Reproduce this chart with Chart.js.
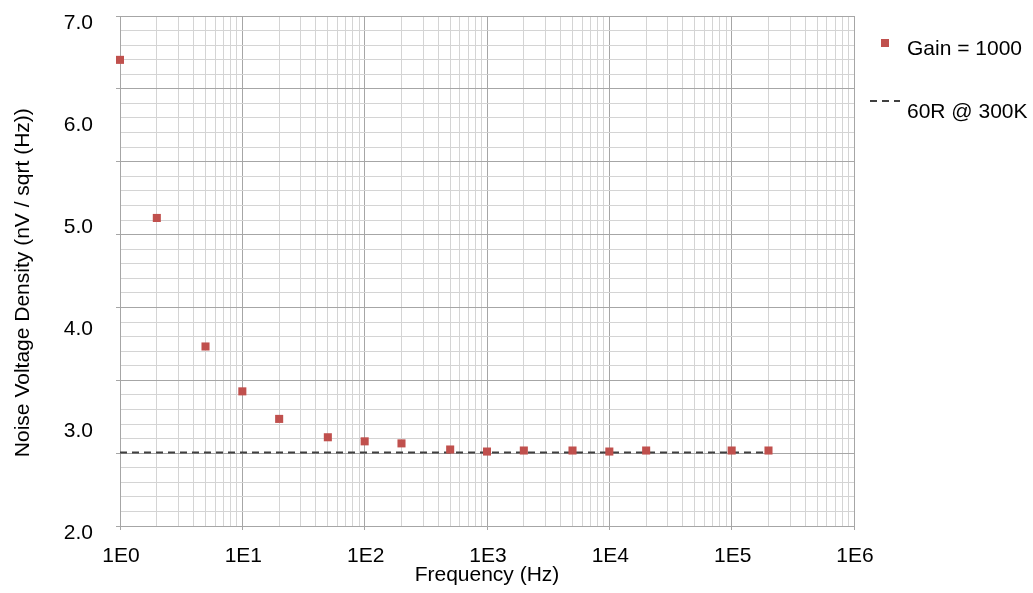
<!DOCTYPE html>
<html>
<head>
<meta charset="utf-8">
<script src="https://cdn.jsdelivr.net/npm/chart.js@4.4.1/dist/chart.umd.min.js"></script>
<style>
  html, body { margin: 0; padding: 0; background: #ffffff; }
  #wrap { width: 1033px; height: 593px; }
</style>
</head>
<body>
<div id="wrap"><canvas id="c" width="1033" height="593"></canvas></div>
<script>
// ---- data ----
const frequencies = [1, 2, 5, 10, 20, 50, 100, 200, 500, 1000, 2000, 5000, 10000, 20000, 100000, 200000];
const noiseGain1000 = [6.57, 5.02, 3.76, 3.32, 3.05, 2.87, 2.83, 2.81, 2.75, 2.73, 2.74, 2.74, 2.73, 2.74, 2.74, 2.74];
const refFrequencies = [1, 200000];
const refNoise60R = [2.72, 2.72];
const seriesNames = ['Gain = 1000', '60R @ 300K'];
const xTickLabels = ['1E0', '1E1', '1E2', '1E3', '1E4', '1E5', '1E6'];
const yTickValues = [2, 3, 4, 5, 6, 7];
const xTitle = 'Frequency (Hz)';
const yTitle = 'Noise Voltage Density (nV / sqrt (Hz))';

// ---- style ----
const FONT = 'Liberation Sans, Arial, Helvetica, sans-serif';
const MAJOR = '#a6a6a6';
const MINOR = '#d4d4d4';
const RED = '#c0504d';
const DASH = '#404040';
const GRID_ROWS = 35;   // horizontal grid divisions (7 major x 5 minor)

function isDecade(v) {
  const e = Math.round(Math.log10(v));
  return Math.abs(v - Math.pow(10, e)) < 1e-6 * Math.pow(10, e);
}

const legendPlugin = {
  id: 'sideLegend',
  afterDraw(chart) {
    const ctx = chart.ctx;
    const ds = chart.data.datasets;
    ctx.save();
    ctx.fillStyle = ds[0].pointBackgroundColor;
    ctx.fillRect(881, 39, 8, 8);
    ctx.fillStyle = '#000';
    ctx.font = '21px ' + FONT;
    ctx.textBaseline = 'middle';
    ctx.textAlign = 'left';
    ctx.fillText(ds[0].label, 907, 49);
    ctx.strokeStyle = ds[1].borderColor;
    ctx.lineWidth = ds[1].borderWidth;
    ctx.setLineDash(ds[1].borderDash);
    ctx.beginPath();
    ctx.moveTo(870, 101);
    ctx.lineTo(900, 101);
    ctx.stroke();
    ctx.setLineDash([]);
    ctx.fillText(ds[1].label, 907, 112);
    ctx.restore();
  }
};

const chart = new Chart(document.getElementById('c'), {
  type: 'scatter',
  data: {
    datasets: [
      {
        label: seriesNames[0],
        data: frequencies.map((f, i) => ({ x: f, y: noiseGain1000[i] })),
        showLine: false,
        pointStyle: 'rect',
        pointRadius: 5.7,
        pointBorderWidth: 0,
        pointBackgroundColor: RED,
        pointBorderColor: RED,
        yAxisID: 'y',
        xAxisID: 'x',
        clip: false
      },
      {
        label: seriesNames[1],
        data: refFrequencies.map((f, i) => ({ x: f, y: refNoise60R[i] })),
        showLine: true,
        borderColor: DASH,
        borderWidth: 2,
        borderDash: [7, 5],
        pointRadius: 0,
        fill: false,
        yAxisID: 'y',
        xAxisID: 'x'
      }
    ]
  },
  options: {
    responsive: false,
    animation: false,
    devicePixelRatio: 1,
    layout: { padding: { top: 16, right: 179, bottom: 0, left: 0 } },
    plugins: {
      legend: { display: false },
      tooltip: { enabled: false }
    },
    scales: {
      x: {
        type: 'logarithmic',
        position: 'bottom',
        min: 1,
        max: 1000000,
        afterBuildTicks(scale) {
          const t = [];
          for (let e = 0; e < 6; e++) {
            for (let m = 1; m <= 9; m++) t.push({ value: m * Math.pow(10, e) });
          }
          t.push({ value: 1000000 });
          scale.ticks = t;
        },
        afterFit(scale) { scale.height = 67; scale.paddingLeft = 0; scale.paddingRight = 0; },
        ticks: {
          autoSkip: false,
          maxRotation: 0,
          minRotation: 0,
          padding: 17,
          labelOffset: 1,
          color: '#000',
          font: { family: FONT, size: 21, lineHeight: '18px' },
          callback(value) {
            if (!isDecade(value)) return '';
            return xTickLabels[Math.round(Math.log10(value))];
          }
        },
        grid: {
          color: (c) => (c.tick && isDecade(c.tick.value)) ? MAJOR : MINOR,
          tickColor: (c) => (c.tick && isDecade(c.tick.value)) ? MAJOR : 'rgba(0,0,0,0)',
          tickLength: 4,
          lineWidth: 1
        },
        border: { display: true, color: MAJOR, width: 1 },
        title: {
          display: true,
          text: xTitle,
          color: '#000',
          font: { family: FONT, size: 21, lineHeight: 1 },
          padding: { top: 0, bottom: 7 }
        }
      },
      y2: {
        type: 'linear',
        axis: 'y',
        position: 'left',
        weight: 0,
        min: 0,
        max: GRID_ROWS,
        afterBuildTicks(scale) {
          const t = [];
          for (let i = 0; i <= GRID_ROWS; i++) t.push({ value: i });
          scale.ticks = t;
        },
        afterFit(scale) { scale.width = 5; scale.paddingTop = 0; scale.paddingBottom = 0; },
        ticks: { display: false },
        grid: {
          color: (c) => (c.tick && Math.round(c.tick.value) % 5 === 0) ? MAJOR : MINOR,
          tickColor: (c) => (c.tick && Math.round(c.tick.value) % 5 === 0) ? MAJOR : 'rgba(0,0,0,0)',
          tickLength: 4,
          lineWidth: 1
        },
        border: { display: true, color: MAJOR, width: 1 }
      },
      y: {
        type: 'linear',
        axis: 'y',
        position: 'left',
        weight: 1,
        min: 2,
        max: 7,
        afterFit(scale) { scale.width = 115; scale.paddingTop = 0; scale.paddingBottom = 0; },
        afterBuildTicks(scale) {
          scale.ticks = yTickValues.map(v => ({ value: v }));
        },
        ticks: {
          padding: 22,
          labelOffset: 7,
          color: '#000',
          font: { family: FONT, size: 21 },
          callback(value) { return Number(value).toFixed(1); }
        },
        grid: { display: false, drawTicks: false },
        border: { display: false },
        title: {
          display: true,
          text: yTitle + '    ',
          color: '#000',
          font: { family: FONT, size: 21, lineHeight: 1 },
          padding: { top: 12.5, bottom: 0 }
        }
      }
    }
  },
  plugins: [legendPlugin]
});
</script>
</body>
</html>
